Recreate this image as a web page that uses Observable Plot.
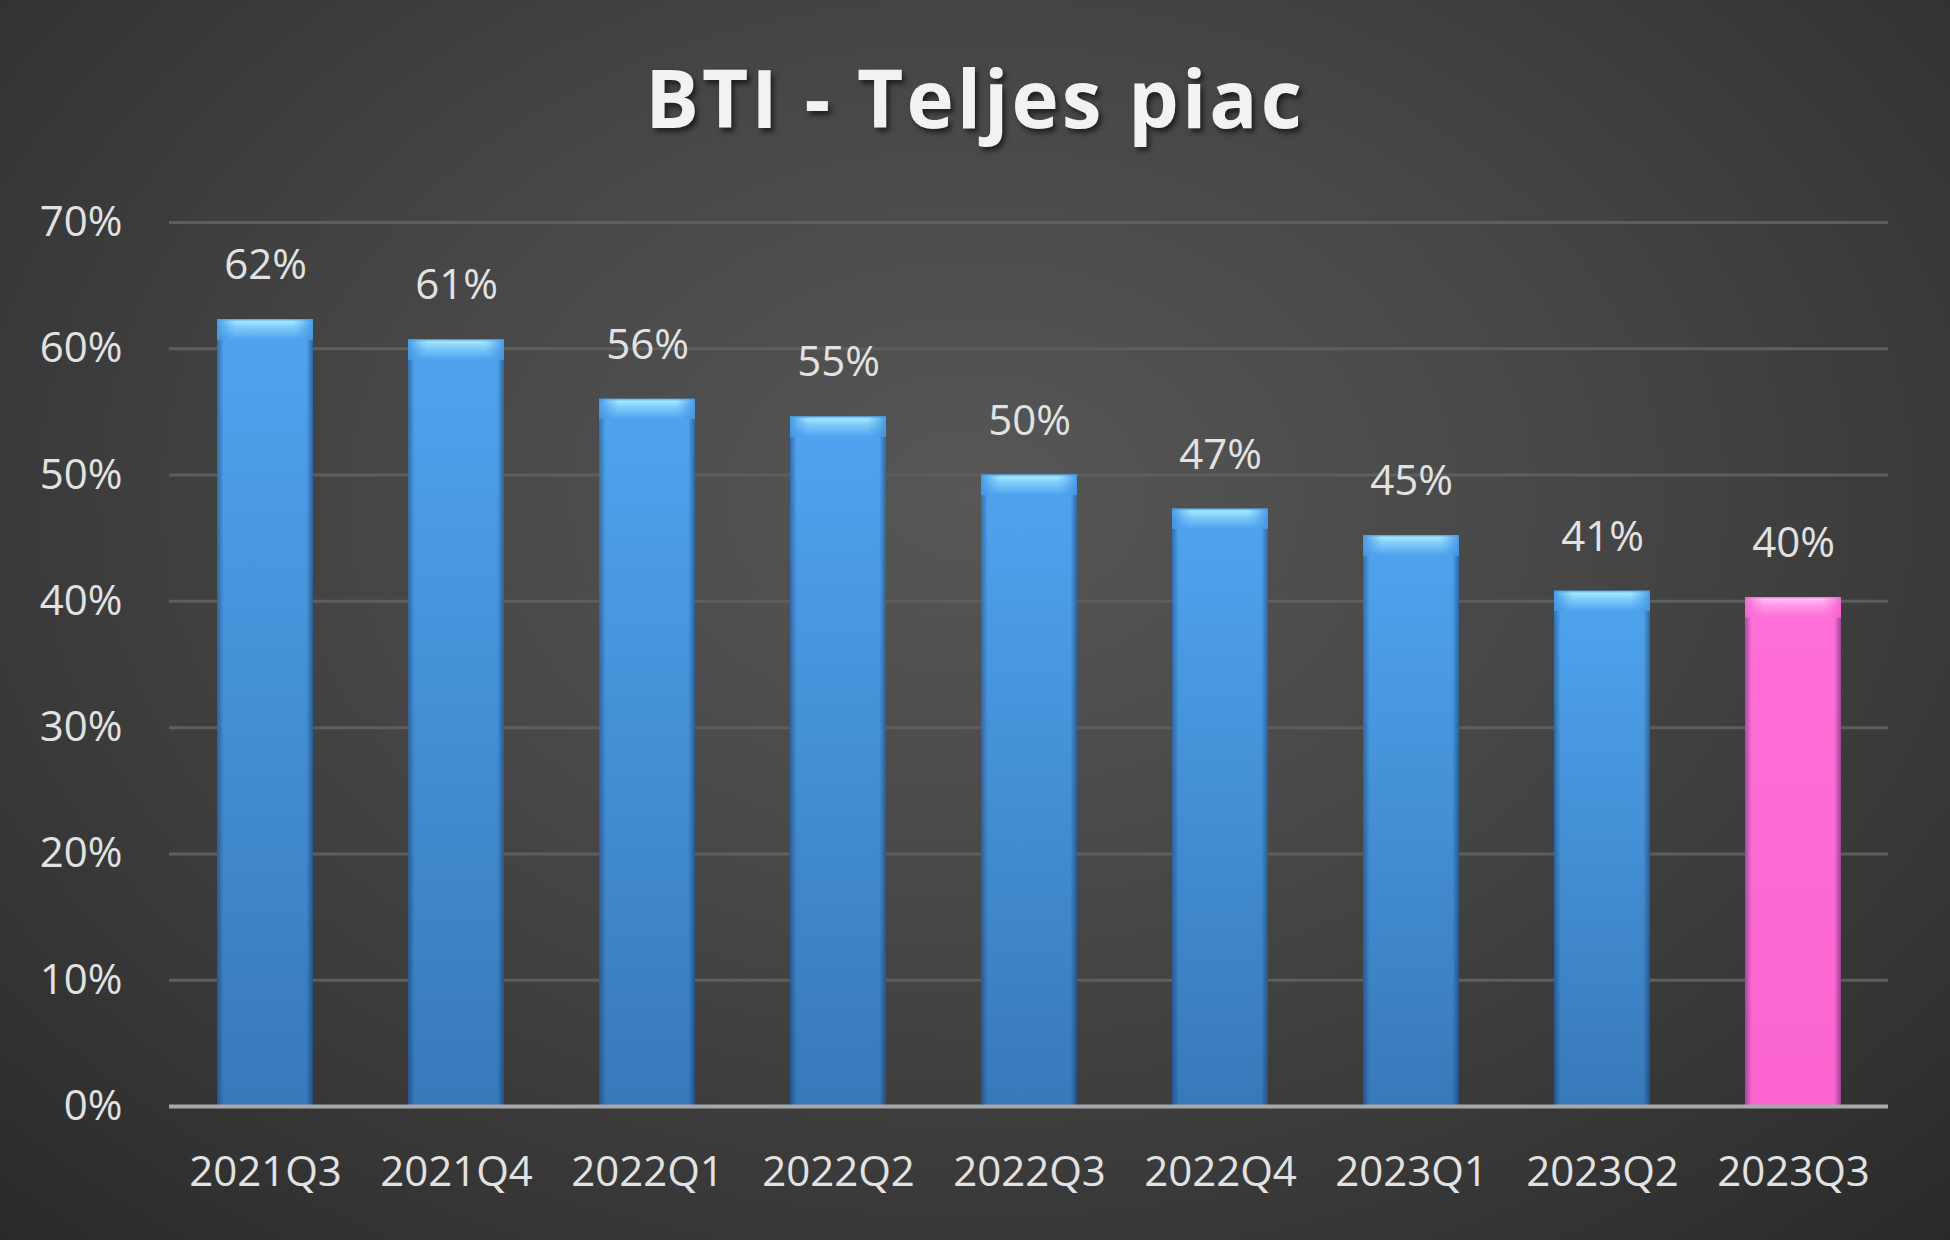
<!DOCTYPE html>
<html><head><meta charset="utf-8">
<script src="https://cdn.jsdelivr.net/npm/d3@7"></script>
<script src="https://cdn.jsdelivr.net/npm/@observablehq/plot@0.6"></script>
<style>
html,body{margin:0;padding:0;background:#2a2a2a;}
body{width:1950px;height:1240px;overflow:hidden;}
#chart{position:relative;width:1950px;height:1240px;background:radial-gradient(ellipse 75% 85% at 50% 40%, #575757 0%, #474747 40%, #333333 80%, #282828 100%);}
#title{position:absolute;left:0;top:57px;width:1950px;text-align:center;font-family:"Open Sans";font-weight:700;font-size:80px;line-height:80px;letter-spacing:3px;color:#f2f2f2;text-shadow:3px 4px 5px rgba(0,0,0,0.55);}
#chart svg{position:absolute;left:0;top:0;}
</style></head>
<body>
<div id="chart"><div id="title">BTI - Teljes piac</div></div>
<script>
const quarters = ["2021Q3","2021Q4","2022Q1","2022Q2","2022Q3","2022Q4","2023Q1","2023Q2","2023Q3"];
const values = [62.3, 60.7, 56.0, 54.6, 50.0, 47.3, 45.2, 40.8, 40.3];
const labels = ["62%","61%","56%","55%","50%","47%","45%","41%","40%"];
const yTicks = [0, 10, 20, 30, 40, 50, 60, 70];
const highlight = "2023Q3";

const data = quarters.map((q, i) => ({q, v: values[i], label: labels[i], hi: q === highlight}));
const bevel = 1.6;
const blue = data.filter(d => !d.hi), pink = data.filter(d => d.hi);

const svg = Plot.plot({
  width: 1950, height: 1240,
  marginLeft: 169, marginRight: 62, marginTop: 222, marginBottom: 134,
  style: {background: "transparent", fontFamily: "Open Sans", fontSize: "42px", color: "#e2e2e2", overflow: "visible"},
  x: {domain: quarters, paddingInner: 0.5, paddingOuter: 0.25, label: null},
  y: {domain: [0, 70], label: null},
  marks: [
    Plot.gridY(yTicks, {stroke: "#5e5e5e", strokeOpacity: 1, strokeWidth: 3}),
    Plot.barY(blue, {x: "q", y: "v", fill: "url(#blueGrad)"}),
    Plot.barY(pink, {x: "q", y: "v", fill: "url(#pinkGrad)"}),
    Plot.barY(data, {x: "q", y: "v", fill: "url(#sideShade)"}),
    Plot.barY(blue, {x: "q", y1: d => d.v - bevel, y2: "v", fill: "url(#blueBevel)"}),
    Plot.barY(pink, {x: "q", y1: d => d.v - bevel, y2: "v", fill: "url(#pinkBevel)"}),
    Plot.barY(blue, {x: "q", y1: d => d.v - bevel, y2: "v", fill: "url(#blueCorner)"}),
    Plot.barY(pink, {x: "q", y1: d => d.v - bevel, y2: "v", fill: "url(#pinkCorner)"}),
    Plot.ruleY([0], {stroke: "#a8a8a8", strokeWidth: 4}),
    Plot.text(data, {x: "q", y: "v", text: "label", dy: -54, fill: "#e2e2e2", fontSize: 42}),
    Plot.axisY(yTicks, {tickSize: 0, tickPadding: 47, tickFormat: d => d + "%", fontSize: 42, label: null}),
    Plot.axisX({tickSize: 0, tickPadding: 50, fontSize: 42, label: null})
  ]
});

d3.select(svg).insert("defs", ":first-child").html(`
  <linearGradient id="blueGrad" x1="0" y1="0" x2="0" y2="1">
    <stop offset="0" stop-color="#4fa4ef"/>
    <stop offset="1" stop-color="#3879ba"/>
  </linearGradient>
  <linearGradient id="pinkGrad" x1="0" y1="0" x2="0" y2="1">
    <stop offset="0" stop-color="#ff6fd9"/>
    <stop offset="1" stop-color="#fb64d0"/>
  </linearGradient>
  <linearGradient id="sideShade" x1="0" y1="0" x2="1" y2="0">
    <stop offset="0" stop-color="#001030" stop-opacity="0.35"/>
    <stop offset="0.07" stop-color="#001030" stop-opacity="0"/>
    <stop offset="0.93" stop-color="#001030" stop-opacity="0"/>
    <stop offset="1" stop-color="#001030" stop-opacity="0.4"/>
  </linearGradient>
  <linearGradient id="blueBevel" x1="0" y1="0" x2="0" y2="1">
    <stop offset="0" stop-color="#5aaef2"/>
    <stop offset="0.12" stop-color="#a4e6ff"/>
    <stop offset="0.4" stop-color="#80ccfa"/>
    <stop offset="1" stop-color="#4fa4ef"/>
  </linearGradient>
  <linearGradient id="pinkBevel" x1="0" y1="0" x2="0" y2="1">
    <stop offset="0" stop-color="#ff7ade"/>
    <stop offset="0.12" stop-color="#ffbcf3"/>
    <stop offset="0.4" stop-color="#ff98e9"/>
    <stop offset="1" stop-color="#ff6fd9"/>
  </linearGradient>
  <linearGradient id="blueCorner" x1="0" y1="0" x2="1" y2="0">
    <stop offset="0" stop-color="#3f92e0" stop-opacity="0.9"/>
    <stop offset="0.2" stop-color="#4fa4ef" stop-opacity="0"/>
    <stop offset="0.8" stop-color="#4fa4ef" stop-opacity="0"/>
    <stop offset="1" stop-color="#3f92e0" stop-opacity="0.9"/>
  </linearGradient>
  <linearGradient id="pinkCorner" x1="0" y1="0" x2="1" y2="0">
    <stop offset="0" stop-color="#f060cc" stop-opacity="0.9"/>
    <stop offset="0.2" stop-color="#ff6fd9" stop-opacity="0"/>
    <stop offset="0.8" stop-color="#ff6fd9" stop-opacity="0"/>
    <stop offset="1" stop-color="#f060cc" stop-opacity="0.9"/>
  </linearGradient>
`);

document.getElementById("chart").appendChild(svg);
</script>
</body></html>
